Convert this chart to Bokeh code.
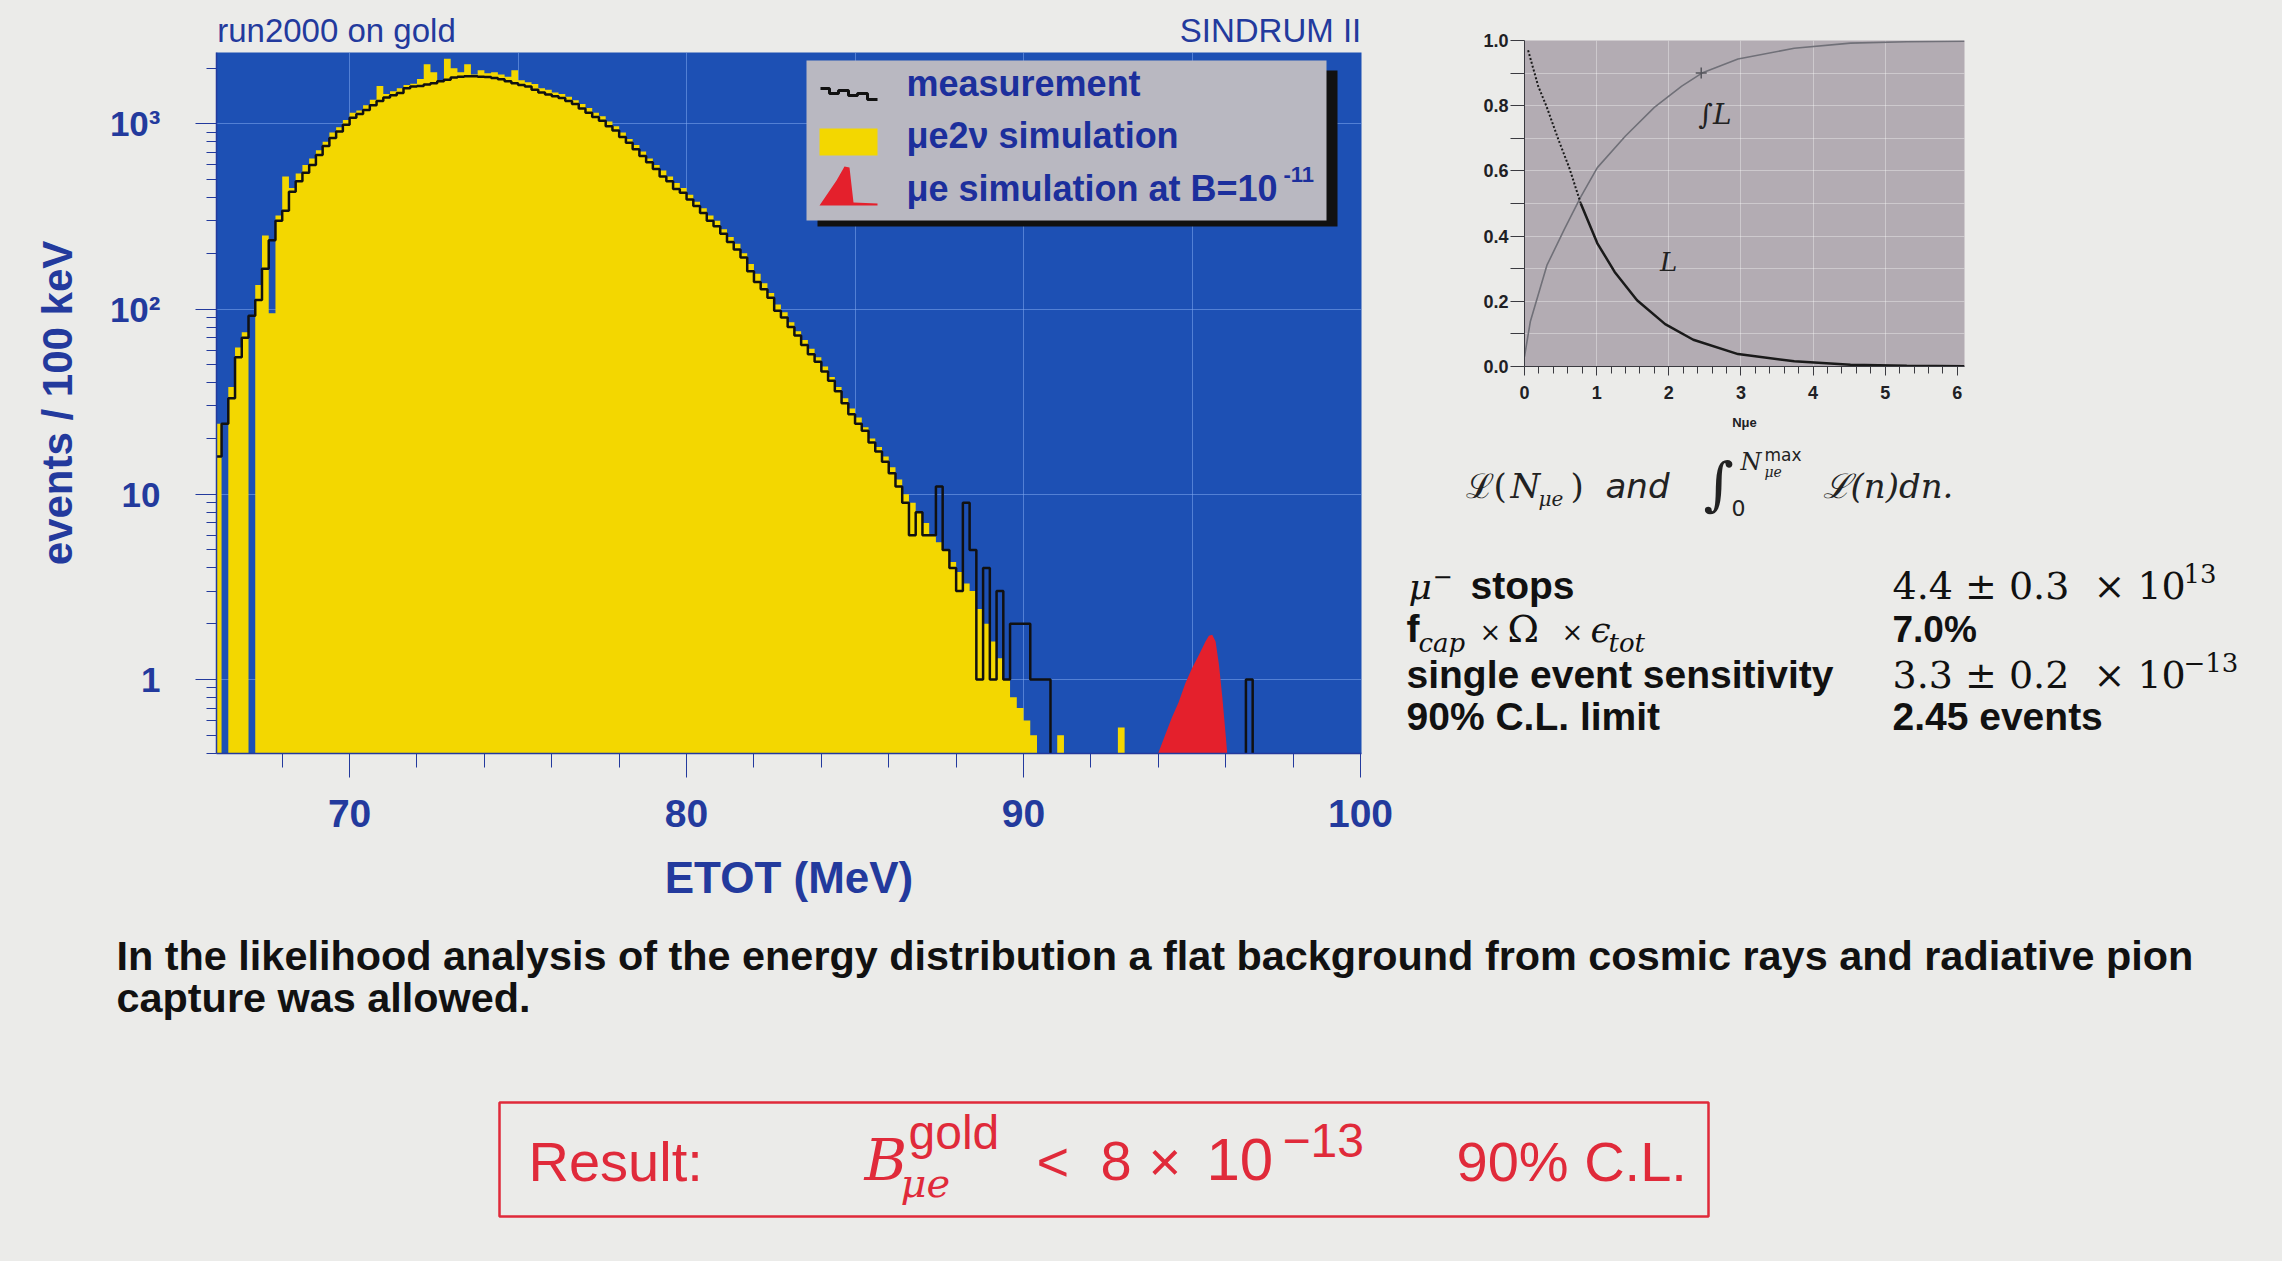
import numpy as np
from bokeh.plotting import figure
from bokeh.models import Range1d, FixedTicker, LinearScale, LinearAxis, PrintfTickFormatter, Spacer
from bokeh.layouts import column, row
from bokeh.embed import file_html
from bokeh.resources import INLINE
from bokeh.core.properties import value

PAGE = "#ebebe9"
FIELD = "#1d50b4"
YELLOW = "#f3d700"
SIGNAL = "#e4202c"
INK = "#233a9d"
LEGEND_INK = "#1c2f9c"
LEGEND_BOX = "#b9b8c1"
INSET_BG = "#b3acb3"
BOX_RED = "#e02a3a"
K = "#111111"
SANS = "Liberation Sans"
SERIF = "DejaVu Serif"

# ---------------------------------------------------------------------------
# Energy spectrum: 0.2 MeV wide bins starting at 66.0 MeV, in events / 100 keV
# ---------------------------------------------------------------------------
bin_start = 66.0
bin_width = 0.2

measured = [
    16, 24, 33, 55, 70, 92, 112, 165, 235, 300,
    340, 430, 490, 545, 600, 680, 760, 840, 910, 990,
    1080, 1130, 1190, 1260, 1330, 1390, 1430, 1470, 1560, 1590,
    1600, 1630, 1660, 1700, 1730, 1780, 1800, 1810, 1810, 1800,
    1790, 1770, 1740, 1700, 1660, 1620, 1590, 1530, 1480, 1440,
    1410, 1380, 1330, 1280, 1210, 1150, 1090, 1040, 970, 920,
    850, 790, 730, 670, 620, 570, 520, 490, 445, 425,
    390, 360, 330, 300, 280, 255, 230, 210, 190, 160,
    140, 128, 115, 98, 90, 80, 72, 64, 57, 52,
    46, 41, 36, 31, 27, 24, 22, 19, 17, 15,
    13, 11, 9, 6, 8, 6, 6, 11, 5, 4,
    3, 9, 5, 1, 4, 1, 3, 1, 2, 2,
    2, 1, 1, 1, 0, 0, 0, 0, 0, 0,
    0, 0, 0, 0, 0, 0, 0, 0, 0, 0,
    0, 0, 0, 0, 0, 0, 0, 0, 0, 0,
    0, 0, 0, 1, 0,
]

mue2nu_sim = [
    24, 0, 38, 62, 75, 0, 135, 250, 95, 320,
    520, 450, 540, 600, 650, 720, 800, 900, 960, 1050,
    1150, 1180, 1260, 1350, 1600, 1450, 1500, 1560, 1620, 1650,
    1750, 2100, 1900, 1700, 2250, 2000, 1900, 2100, 1850, 1950,
    1880, 1900, 1850, 1800, 1950, 1720, 1680, 1640, 1560, 1530,
    1480, 1450, 1400, 1340, 1280, 1220, 1150, 1100, 1030, 970,
    900, 830, 770, 710, 650, 600, 560, 520, 480, 450,
    415, 380, 350, 320, 300, 270, 245, 225, 200, 175,
    155, 138, 122, 106, 96, 85, 76, 68, 61, 55,
    49, 43, 38, 33, 29, 26, 23, 20, 18, 16,
    14, 12, 10, 9, 8, 7, 6, 5.5, 5, 4.3,
    3.8, 3.3, 3.0, 2.4, 2.0, 1.6, 1.3, 1.0, 0.8, 0.7,
    0.6, 0.5, 0, 0, 0, 0.5, 0, 0, 0, 0,
    0, 0, 0, 0, 0.55, 0, 0, 0, 0, 0,
    0, 0, 0, 0, 0, 0, 0, 0, 0, 0,
    0, 0, 0, 0, 0,
]

# mu -> e conversion signal shape for B = 1e-11
signal_e = [94.0, 94.2, 94.4, 94.6, 94.8, 95.0, 95.2, 95.4, 95.5, 95.6, 95.7, 95.8, 95.9, 96.0, 96.1]
signal_v = [0.40, 0.50, 0.62, 0.75, 0.95, 1.15, 1.35, 1.60, 1.72, 1.74, 1.60, 1.20, 0.80, 0.50, 0.30]

x_major = [70, 80, 90, 100]
x_minor = [68, 72, 74, 76, 78, 82, 84, 86, 88, 92, 94, 96, 98]
y_major = [1, 10, 100, 1000]
y_minor = [0.4, 0.5, 0.6, 0.7, 0.8, 0.9, 2, 3, 4, 5, 6, 7, 8, 9,
           20, 30, 40, 50, 60, 70, 80, 90, 200, 300, 400, 500, 600, 700, 800, 900, 2000]
y_labels = {1: "1", 10: "10", 100: "10²", 1000: "10³"}

legend_labels = ["measurement", "μe2ν simulation", "μe simulation at B=10"]

# ---------------------------------------------------------------------------
# Likelihood of N_mue and its running integral
# ---------------------------------------------------------------------------
lik_n = [0.05, 0.19, 0.31, 0.47, 0.62, 0.78, 1.01, 1.25, 1.56, 1.95, 2.34, 2.96, 3.74, 4.52, 5.30, 6.10]
lik_v = [0.97, 0.86, 0.795, 0.696, 0.61, 0.50, 0.378, 0.29, 0.203, 0.13, 0.082, 0.038, 0.016, 0.005, 0.002, 0.001]
int_n = [0.0, 0.08, 0.31, 0.55, 0.78, 1.01, 1.40, 1.80, 2.18, 2.46, 2.96, 3.74, 4.52, 5.30, 6.10]
int_v = [0.03, 0.137, 0.31, 0.42, 0.52, 0.61, 0.707, 0.795, 0.86, 0.90, 0.943, 0.976, 0.992, 0.996, 0.998]
limit_n = 2.45
limit_int = 0.90

FLOOR = 0.3
BG = {"background-color": PAGE}
RISE = 0.38   # glyph text sits this many em below its anchor; lift anchors to land on the baseline


def write(fig, x, y, s, size, color=K, font=SANS, style="normal", align="left", down=True, px_per_unit=1.0, **kw):
    """Draw text whose alphabetic baseline lands at (x, y)."""
    lift = RISE * size / px_per_unit
    yy = y - lift if down else y + lift
    fig.text(x=[x], y=[yy], text=[s], text_font=value(font), text_font_size=value(f"{size}px"),
             text_font_style=style, text_color=color, text_align=align, text_baseline="alphabetic", **kw)


# ---------------------------------------------------------------------------
# Main spectrum
# ---------------------------------------------------------------------------
main = figure(width=1400, height=915, x_range=Range1d(66.05, 100.03), y_range=Range1d(0.398, 2430),
              y_axis_type="log", output_backend="svg", toolbar_location=None,
              min_border_left=216, min_border_right=39, min_border_top=52, min_border_bottom=162,
              background_fill_color=FIELD, border_fill_color=PAGE, outline_line_color=None)
main.extra_x_ranges = {"px": Range1d(216, 1361)}
main.extra_y_ranges = {"px": Range1d(753, 52)}
main.extra_x_scales = {"px": LinearScale()}
main.extra_y_scales = {"px": LinearScale()}

main.xgrid.ticker = FixedTicker(ticks=[70, 75, 80, 85, 90, 95])
main.ygrid.ticker = FixedTicker(ticks=y_major)
main.grid.grid_line_color = "#7fa8ee"
main.grid.grid_line_alpha = 0.55
main.grid.grid_line_width = 1

edges = bin_start + bin_width * np.arange(len(measured) + 1)
step_x = np.repeat(edges, 2)[1:-1]
sim = np.array(mue2nu_sim, dtype=float)
meas = np.array(measured, dtype=float)
sim_top = np.repeat(np.where(sim > 0, sim, FLOOR), 2)
meas_top = np.repeat(np.where(meas > 0, meas, FLOOR), 2)

main.varea(x=step_x, y1=FLOOR, y2=sim_top, fill_color=YELLOW)
main.varea(x=signal_e, y1=FLOOR, y2=signal_v, fill_color=SIGNAL)
main.line(x=step_x, y=meas_top, line_color=K, line_width=2.5)

xa = main.xaxis[0]
xa.ticker = FixedTicker(ticks=x_major, minor_ticks=x_minor)
xa.axis_label = "ETOT (MeV)"
xa.axis_label_standoff = 23
ya = main.yaxis[0]
ya.ticker = FixedTicker(ticks=y_major, minor_ticks=y_minor)
ya.major_label_overrides = y_labels
ya.axis_label = "events / 100 keV"
ya.axis_label_standoff = 26
for ax in (xa, ya):
    ax.axis_line_color = INK
    ax.axis_line_width = 1.5
    ax.major_tick_line_color = INK
    ax.minor_tick_line_color = INK
    ax.major_tick_in = 0
    ax.minor_tick_in = 0
    ax.major_label_text_font = SANS
    ax.major_label_text_font_style = "bold"
    ax.major_label_text_color = INK
    ax.axis_label_text_font = SANS
    ax.axis_label_text_font_style = "bold"
    ax.axis_label_text_color = INK
xa.major_tick_out = 24
xa.minor_tick_out = 14
xa.major_label_standoff = 22
xa.major_label_text_font_size = "39px"
xa.axis_label_text_font_size = "44px"
ya.major_tick_out = 21
ya.minor_tick_out = 10
ya.major_label_standoff = 35
ya.major_label_text_font_size = "35px"
ya.axis_label_text_font_size = "42px"

# run label and experiment name above the frame
head = LinearAxis(x_range_name="px", ticker=FixedTicker(ticks=[336, 1270]),
                  major_label_overrides={336: "run2000 on gold", 1270: "SINDRUM II"},
                  axis_line_color=None, major_tick_line_color=None, minor_tick_line_color=None,
                  major_tick_out=0, minor_tick_out=0,
                  major_label_standoff=4, major_label_text_font=SANS, major_label_text_font_size="33px",
                  major_label_text_color=INK)
main.add_layout(head, "above")

# legend panel with drop shadow
px = dict(x_range_name="px", y_range_name="px")
main.quad(left=817, right=1337, top=70, bottom=226, fill_color=K, line_color=None, **px)
main.quad(left=806, right=1326, top=60, bottom=220, fill_color=LEGEND_BOX, line_color=None, **px)
main.line(x=[820, 829, 829, 838, 838, 848, 848, 857, 857, 867, 867, 877],
          y=[88, 88, 93, 93, 90, 90, 95, 95, 93, 93, 99, 99], line_color=K, line_width=3, **px)
main.quad(left=819, right=877, top=128, bottom=155, fill_color=YELLOW, line_color=None, **px)
main.patch(x=[819, 836, 844, 849, 853, 877, 877, 819], y=[205, 180, 166, 167, 202, 203, 205, 205],
           fill_color=SIGNAL, line_color=None, **px)
for yb, s in zip([97, 149, 202], legend_labels):
    write(main, 906, yb, s, 36, LEGEND_INK, style="bold", **px)
write(main, 1283, 182, "-11", 22, LEGEND_INK, style="bold", **px)

# ---------------------------------------------------------------------------
# Likelihood inset
# ---------------------------------------------------------------------------
inset = figure(width=490, height=440, x_range=Range1d(0, 6.1), y_range=Range1d(0, 1.0),
               output_backend="svg", toolbar_location=None,
               min_border_left=44, min_border_right=6, min_border_top=40, min_border_bottom=74,
               background_fill_color=INSET_BG, border_fill_color=PAGE, outline_line_color=None)
inset.xgrid.ticker = FixedTicker(ticks=[1, 2, 3, 4, 5])
inset.ygrid.ticker = FixedTicker(ticks=[0.1, 0.2, 0.3, 0.4, 0.5, 0.6, 0.7, 0.8, 0.9])
inset.grid.grid_line_color = "#ffffff"
inset.grid.grid_line_alpha = 0.35

inset.line(x=int_n, y=int_v, line_color="#707078", line_width=1.6)
inset.line(x=lik_n[:6], y=lik_v[:6], line_color="#1a1a1a", line_width=2, line_dash="2 2")
inset.line(x=lik_n[5:], y=lik_v[5:], line_color="#1a1a1a", line_width=2.5)
inset.scatter(x=[limit_n], y=[limit_int], marker="cross", size=11, line_color="#55555c", line_width=1.5)
write(inset, 2.41, 0.74, "∫L", 28, "#222222", font=SERIF, style="italic", down=False, px_per_unit=326)
write(inset, 1.88, 0.29, "L", 26, "#222222", font=SERIF, style="italic", down=False, px_per_unit=326)

ix = inset.xaxis[0]
ix.ticker = FixedTicker(ticks=[0, 1, 2, 3, 4, 5, 6],
                        minor_ticks=[0.2 * k for k in range(31) if k % 5])
ix.axis_label = "Nμe"
ix.axis_label_standoff = 13
ix.axis_label_text_font_size = "13px"
iy = inset.yaxis[0]
iy.ticker = FixedTicker(ticks=[0, 0.2, 0.4, 0.6, 0.8, 1.0], minor_ticks=[0.1, 0.3, 0.5, 0.7, 0.9])
iy.formatter = PrintfTickFormatter(format="%.1f")
for ax in (ix, iy):
    ax.axis_line_color = "#3a3a40"
    ax.major_tick_line_color = "#3a3a40"
    ax.minor_tick_line_color = "#3a3a40"
    ax.major_tick_in = 0
    ax.minor_tick_in = 0
    ax.major_label_text_font = SANS
    ax.major_label_text_font_style = "bold"
    ax.major_label_text_color = "#202024"
    ax.axis_label_text_font = SANS
    ax.axis_label_text_font_style = "bold"
    ax.axis_label_text_color = "#202024"
ix.major_tick_out = 9
ix.minor_tick_out = 7
ix.major_label_standoff = 10
ix.major_label_text_font_size = "18px"
iy.major_tick_out = 14
iy.minor_tick_out = 14
iy.major_label_standoff = 2
iy.major_label_text_font_size = "18px"

# ---------------------------------------------------------------------------
# Caption and summary numbers (page pixel coordinates)
# ---------------------------------------------------------------------------
notes = figure(width=882, height=475, x_range=Range1d(1400, 2282), y_range=Range1d(915, 440),
               output_backend="svg", toolbar_location=None, min_border=0,
               x_axis_location=None, y_axis_location=None,
               background_fill_color=PAGE, border_fill_color=PAGE, outline_line_color=None)
notes.grid.visible = False

C = "#222222"
write(notes, 1465, 498, "ℒ(", 34, C, font=SERIF)
write(notes, 1510, 498, "N", 34, C, font=SERIF, style="italic")
write(notes, 1538, 506, "μe", 20, C, font=SERIF, style="italic")
write(notes, 1570, 498, ")", 34, C, font=SERIF)
write(notes, 1605, 498, "and", 34, C, font="DejaVu Sans", style="italic")
write(notes, 1703, 506, "∫", 58, C, font=SERIF)
write(notes, 1731, 516, "0", 22, C, font="DejaVu Sans")
write(notes, 1740, 471, "N", 24, C, font=SERIF, style="italic")
write(notes, 1764, 461, "max", 17, C, font="DejaVu Sans")
write(notes, 1764, 477, "μe", 14, C, font=SERIF, style="italic")
write(notes, 1822, 498, "ℒ(n)dn.", 34, C, font=SERIF, style="italic")

write(notes, 1408, 600, "μ", 36, K, font=SERIF, style="italic")
write(notes, 1432, 585, "−", 24, K, font=SERIF)
write(notes, 1470, 600, "stops", 39, K, style="bold")
write(notes, 1406, 643, "f", 39, K, style="bold")
write(notes, 1418, 652, "cap", 26, K, font=SERIF, style="italic")
write(notes, 1479, 641, "×", 26, K, font=SERIF)
write(notes, 1507, 643, "Ω", 38, K, font=SERIF)
write(notes, 1561, 641, "×", 26, K, font=SERIF)
write(notes, 1590, 643, "ϵ", 36, K, font=SERIF, style="italic")
write(notes, 1608, 652, "tot", 26, K, font=SERIF, style="italic")
write(notes, 1406, 689, "single event sensitivity", 39, K, style="bold")
write(notes, 1406, 731, "90% C.L. limit", 39, K, style="bold")

write(notes, 1892, 600, "4.4 ± 0.3", 38, K, font=SERIF)
write(notes, 2093, 600, "× 10", 38, K, font=SERIF)
write(notes, 2183, 583, "13", 26, K, font=SERIF)
write(notes, 1892, 643, "7.0%", 37, K, style="bold")
write(notes, 1892, 689, "3.3 ± 0.2", 38, K, font=SERIF)
write(notes, 2093, 689, "× 10", 38, K, font=SERIF)
write(notes, 2183, 672, "−13", 26, K, font=SERIF)
write(notes, 1892, 731, "2.45 events", 39, K, style="bold")

# ---------------------------------------------------------------------------
# Footer: remark and boxed result
# ---------------------------------------------------------------------------
foot = figure(width=2282, height=346, x_range=Range1d(0, 2282), y_range=Range1d(1261, 915),
              output_backend="svg", toolbar_location=None, min_border=0,
              x_axis_location=None, y_axis_location=None,
              background_fill_color=PAGE, border_fill_color=PAGE, outline_line_color=None)
foot.grid.visible = False

write(foot, 116, 971, "In the likelihood analysis of the energy distribution a flat background from cosmic rays and radiative pion", 41.4, K, style="bold")
write(foot, 116, 1013, "capture was allowed.", 41.4, K, style="bold")

foot.quad(left=499, right=1708, top=1102, bottom=1216, fill_color=None, line_color=BOX_RED, line_width=2.5)
write(foot, 528, 1182, "Result:", 56, BOX_RED)
write(foot, 864, 1182, "B", 58, BOX_RED, font=SERIF, style="italic")
write(foot, 908, 1150, "gold", 48, BOX_RED)
write(foot, 900, 1198, "μe", 40, BOX_RED, font=SERIF, style="italic")
write(foot, 1036, 1182, "<", 56, BOX_RED)
write(foot, 1100, 1182, "8", 56, BOX_RED)
write(foot, 1148, 1182, "×", 56, BOX_RED)
write(foot, 1206, 1182, "10", 60, BOX_RED)
write(foot, 1282, 1158, "−13", 48, BOX_RED)
write(foot, 1456, 1182, "90% C.L.", 56, BOX_RED)

right_col = column(
    row(Spacer(width=80, height=440, styles=BG), inset, Spacer(width=312, height=440, styles=BG),
        spacing=0, styles=BG),
    notes, spacing=0, styles=BG)
page = column(row(main, right_col, spacing=0, styles=BG), foot, spacing=0, styles=BG)
open("out.html", "w").write(file_html(page, INLINE))
